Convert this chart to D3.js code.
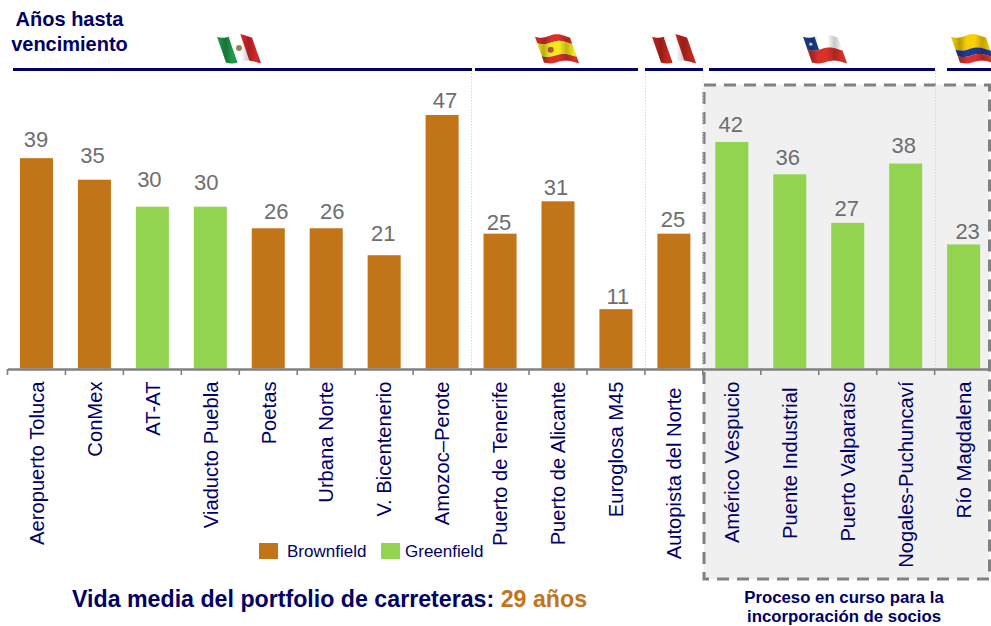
<!DOCTYPE html>
<html><head><meta charset="utf-8">
<script src="https://cdnjs.cloudflare.com/ajax/libs/d3/7.8.5/d3.min.js"></script>
<style>html,body{margin:0;padding:0;background:#fff}svg{display:block}text{font-family:"Liberation Sans",Arial,sans-serif}</style>
</head><body><svg id="c" width="991" height="626"></svg>
<script>
const categories=["Aeropuerto Toluca","ConMex","AT-AT","Viaducto Puebla","Poetas","Urbana Norte","V. Bicentenerio","Amozoc–Perote","Puerto de Tenerife","Puerto de Alicante","Euroglosa M45","Autopista del Norte","Américo Vespucio","Puente Industrial","Puerto Valparaíso","Nogales-Puchuncaví","Río Magdalena"];
const values=[39,35,30,30,26,26,21,47,25,31,11,25,42,36,27,38,23];
const kinds=["B","B","G","G","B","B","B","B","B","B","B","B","G","G","G","G","G"];
const legendNames=["Brownfield","Greenfield"];
const countryGroups=[{code:"mx"},{code:"es"},{code:"pe"},{code:"cl"},{code:"co"}];

const BROWN="#c27418",GREEN="#92d350",NAVY="#000066",GREY="#6e6e6e";
const svg=d3.select("#c");
const y0=368.5;
const x=d3.scaleBand().domain(categories).range([7.5,992.6]).paddingInner(.43).paddingOuter(.215);
const y=d3.scaleLinear().domain([0,47]).range([y0,115]);
const step=x.step();
const left=i=>7.5+step*i;

// grey box
svg.append("rect").attr("x",704).attr("y",85).attr("width",285.5).attr("height",494)
  .attr("fill","#f0f0f0").attr("stroke","#808080").attr("stroke-width",3).attr("stroke-dasharray","12 8");

// separators
[8,11,12,16].forEach(i=>{
  const px=Math.round(left(i))+.5-(i==12?0.5:0);
  svg.append("line").attr("x1",px).attr("x2",px).attr("y1",70).attr("y2",369)
    .attr("stroke","#d9d9d9").attr("stroke-width",1).attr("stroke-dasharray","1.5 1.5");
});

// group rules
const ruleEnds=[[13,472],[475,638],[645,703],[709,935],[947,991]];
svg.append("g").selectAll("line").data(ruleEnds).join("line")
  .attr("x1",d=>d[0]).attr("x2",d=>d[1]).attr("y1",69.5).attr("y2",69.5)
  .attr("stroke",NAVY).attr("stroke-width",3);

// bars
svg.append("g").selectAll("rect").data(categories).join("rect")
  .attr("x",d=>x(d)).attr("width",x.bandwidth())
  .attr("y",(d,i)=>y(values[i])).attr("height",(d,i)=>y0-y(values[i]))
  .attr("fill",(d,i)=>kinds[i]=="B"?BROWN:GREEN);

// value labels: hand-placed offsets as in the original slide
const nudgeX=[-.5,-2,-3,-4,8,6,-1,3,-1,-2,2,-1,-1,-2,-1,-2,4];
const gapY=[11,17,20,17,9,9,14,7,4,6,5,7,10,9,7,11,5];
svg.append("g").selectAll("text").data(values).join("text")
  .attr("x",(d,i)=>x(categories[i])+x.bandwidth()/2+nudgeX[i])
  .attr("y",(d,i)=>y(d)-gapY[i])
  .attr("text-anchor","middle").attr("font-size",22).attr("fill",GREY).text(d=>d);

// axis
const ax=svg.append("g").attr("transform",`translate(0,${369})`)
  .call(d3.axisBottom(x).tickSize(0).tickPadding(0));
ax.select(".domain").attr("stroke","#808080").attr("stroke-width",2.4);
const shifted=new Set(["Puente Industrial","Autopista del Norte"]);
ax.selectAll(".tick text").attr("font-size",20.2).attr("fill",NAVY).attr("font-family",null)
  .attr("text-anchor","end")
  .attr("transform",d=>`translate(0,${shifted.has(d)?18.5:12.5}) rotate(-90)`)
  .attr("x",0).attr("y",0).attr("dy","0.36em");
d3.range(categories.length+1).forEach(i=>{
  svg.append("line").attr("x1",left(i)).attr("x2",left(i)).attr("y1",369).attr("y2",375)
    .attr("stroke","#808080").attr("stroke-width",1.6);
});

// legend
const lg=svg.append("g");
[[259,287],[381,405]].forEach((p,i)=>{
  lg.append("rect").attr("x",p[0]).attr("y",543).attr("width",19).attr("height",16).attr("fill",i?GREEN:BROWN);
  lg.append("text").attr("x",p[1]).attr("y",557).attr("font-size",17).attr("fill",NAVY).text(legendNames[i]);
});

// titles
const t1=svg.append("text").attr("font-weight","bold").attr("font-size",20).attr("fill",NAVY).attr("text-anchor","middle");
t1.append("tspan").attr("x",69.5).attr("y",26).text("Años hasta");
t1.append("tspan").attr("x",69.5).attr("y",51).text("vencimiento");
const t2=svg.append("text").attr("x",72).attr("y",606.5).attr("font-weight","bold").attr("font-size",23.2).attr("fill",NAVY);
t2.append("tspan").text("Vida media del portfolio de carreteras: ");
t2.append("tspan").attr("fill",BROWN).text("29 años");
svg.append("text").attr("font-weight","bold").attr("font-size",16.8).attr("fill",NAVY).attr("text-anchor","middle")
  .attr("x",844).attr("y",602.5).text("Proceso en curso para la");
svg.append("text").attr("font-weight","bold").attr("font-size",16.8).attr("fill",NAVY).attr("text-anchor","middle")
  .attr("x",844).attr("y",622).text("incorporación de socios");

// flags
const defs=svg.append("defs");
const sheen=defs.append("linearGradient").attr("id","sheen");
[[0,.0],[.2,.25],[.35,0],[.55,.0],[.72,.22],[.9,0],[1,.12]].forEach(s=>sheen.append("stop").attr("offset",s[0]).attr("stop-color","#000").attr("stop-opacity",s[1]));
const W=35,H=26,SH=9;
const pt=(u,v)=>[u*W+v*SH, v*H+ 1.8*Math.sin(u*Math.PI*2.2+.4)*(1-v*.2)];
function quad(u0,u1,v0,v1){
  const p=[],n=16;
  for(let k=0;k<=n;k++)p.push(pt(u0+(u1-u0)*k/n,v0));
  for(let k=n;k>=0;k--)p.push(pt(u0+(u1-u0)*k/n,v1));
  return d3.line()(p)+"Z";
}
const flagDefs={
 mx:{x:217,cols:["#1f9a4b","#ffffff","#d8282b"]},
 es:{x:535,rows:[["#d9302a",.25],["#f3ea1c",.75],["#d9302a",1]]},
 pe:{x:652,cols:["#c3261f","#ffffff","#c3261f"]},
 cl:{x:803,cl:true},
 co:{x:951,rows:[["#f7cf00",.5],["#203a93",.75],["#d9302a",1]]}
};
countryGroups.forEach(g=>{
  const f=flagDefs[g.code];
  const gg=svg.append("g").attr("transform",`translate(${f.x},36)`);
  if(f.cols)f.cols.forEach((c,i)=>gg.append("path").attr("d",quad(i/3,(i+1)/3,0,1)).attr("fill",c));
  if(f.rows){let a=0;f.rows.forEach(r=>{gg.append("path").attr("d",quad(0,1,a,r[1])).attr("fill",r[0]);a=r[1];});}
  if(f.cl){
    gg.append("path").attr("d",quad(0,1,0,.5)).attr("fill","#ffffff");
    gg.append("path").attr("d",quad(0,1,.5,1)).attr("fill","#d9302a");
    gg.append("path").attr("d",quad(0,.33,0,.5)).attr("fill","#1c3f94");
    const s=pt(.16,.25);gg.append("circle").attr("cx",s[0]).attr("cy",s[1]).attr("r",1.6).attr("fill","#fff");
  }
  if(g.code=="mx"||g.code=="es"){const s=pt(g.code=="mx"?.5:.32,.5);gg.append("circle").attr("cx",s[0]).attr("cy",s[1]).attr("r",3).attr("fill",g.code=="mx"?"#8a8a5a":"#b5533a");}
  gg.append("path").attr("d",quad(0,1,0,1)).attr("fill","url(#sheen)");
});
</script></body></html>
